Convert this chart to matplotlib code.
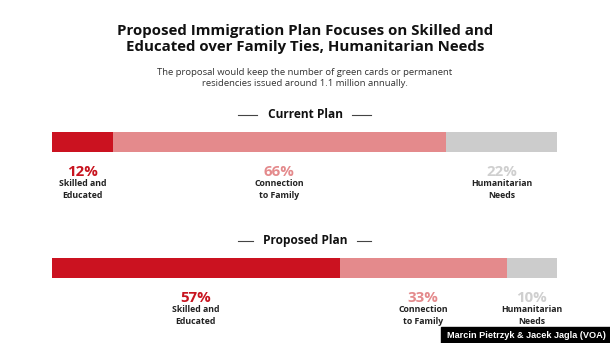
import matplotlib.pyplot as plt
from matplotlib.patches import Rectangle

# Data
plans = ['Current Plan', 'Proposed Plan']
categories = ['Skilled and\nEducated', 'Connection\nto Family', 'Humanitarian\nNeeds']
current = [12, 66, 22]
proposed = [57, 33, 10]
shares = [current, proposed]

# Styling
colors = ['#CB1220', '#E48A8C', '#CCCCCC']
pct_colors = ['#C8141F', '#E48A8C', '#CFCFCF']
font = 'Open Sans'

W, H = 610, 343
fig = plt.figure(figsize=(W / 100, H / 100), dpi=100, facecolor='white')

# axes in percent on x, pixel rows on y; 0% at x=52px, 100% at x=557px
ppu = (557 - 52) / 100
ax = fig.add_axes([0, 0, 1, 1])
ax.set_xlim(-52 / ppu, (W - 52) / ppu)
ax.set_ylim(H, 0)
ax.axis('off')


def px(x):
    # pixel column -> percent units
    return (x - 52) / ppu


bar_y = [142, 268]
head_y = [114.5, 240.5]
head_dash = [(238, 257, 352, 371), (238, 253, 357, 371)]

for i, vals in enumerate(shares):
    left = 0
    for j, v in enumerate(vals):
        ax.barh(bar_y[i], v, left=left, height=20, color=colors[j], linewidth=0)
        cx = left + v / 2
        ax.text(cx, bar_y[i] + 30, f'{v}%', ha='center', va='center',
                fontsize=10.8, fontweight='bold', color=pct_colors[j], family=font)
        ax.text(cx, bar_y[i] + 37.5, categories[j], ha='center', va='top',
                fontsize=6.3, fontweight='bold', color='#222222', family=font,
                linespacing=1.4)
        left += v
    # section header with dashes
    ax.text(px(305), head_y[i], plans[i], ha='center', va='center', fontsize=8.6,
            fontweight='bold', color='#111111', family=font)
    a, b, c, d = head_dash[i]
    for x0, x1 in [(a, b), (c, d)]:
        ax.plot([px(x0), px(x1)], [head_y[i], head_y[i]], color='#444444', lw=0.8)

# titles
fig.text(0.5, 1 - 39 / H, 'Proposed Immigration Plan Focuses on Skilled and\n'
         'Educated over Family Ties, Humanitarian Needs', ha='center', va='center',
         fontsize=10.8, fontweight='bold', color='#111111', family=font,
         linespacing=1.2)
fig.text(0.5, 1 - 78 / H, 'The proposal would keep the number of green cards or permanent\n'
         'residencies issued around 1.1 million annually.', ha='center', va='center',
         fontsize=6.8, color='#333333', family=font, linespacing=1.35)

# credit box
fig.patches.append(Rectangle((441 / W, 0), 169 / W, 16 / H, transform=fig.transFigure,
                             color='black', zorder=5))
fig.text(526 / W, 8 / H, 'Marcin Pietrzyk & Jacek Jagla (VOA)', ha='center',
         va='center', fontsize=6.6, fontweight='bold', color='white',
         family='Liberation Sans', zorder=6)

plt.savefig('out.png', dpi=100, facecolor='white')
